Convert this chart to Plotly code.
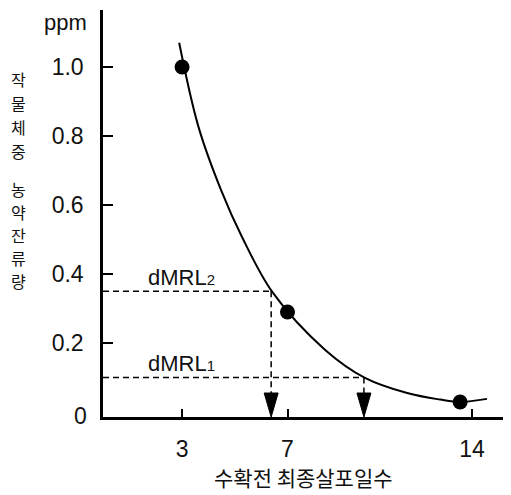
import plotly.graph_objects as go

# ---- data ----
obs_days = [3, 7, 13.55]
obs_ppm = [1.0, 0.29, 0.029]

curve_days = [2.89, 3.62, 4.48, 5.27, 6.45, 8.43, 9.94, 11.54, 12.79, 13.55, 14.57]
curve_ppm = [1.07, 0.827, 0.643, 0.508, 0.345, 0.180, 0.099, 0.055, 0.036, 0.029, 0.038]

dmrl_names = ["dMRL<span style='font-size:15px'>2</span>", "dMRL<span style='font-size:15px'>1</span>"]
dmrl_ppm = [0.35, 0.10]
dmrl_days = [6.38, 9.90]

x_ticks = [3, 7, 14]
y_ticks = [0.2, 0.4, 0.6, 0.8, 1.0]
y_ticktext = ["0.2", "0.4", "0.6", "0.8", "1.0"]

x_title = "수확전 최종살포일수"
y_title = "작물체중 농약잔류량"
unit = "ppm"

# page body has an 8px margin; figure is placed at (8, 8) of the window
OFF = 8
W, H = 503, 487
L, R, T, B = 95, 0, 2, 78
XR = [0, 15.48]
YR = [-0.0145, 1.165]

FONT = "Liberation Sans, Arial, sans-serif"
KFONT = "Noto Sans CJK KR, sans-serif"
TXT = "#111111"

PW = W - L - R
PH = H - T - B


def px(xs):
    """screen x (window pixels) -> paper x"""
    return (xs - OFF - L) / PW


def py(ys):
    """screen y (window pixels) -> paper y"""
    return (H - B - (ys - OFF)) / PH


fig = go.Figure()

fig.add_trace(go.Scatter(x=curve_days, y=curve_ppm, mode="lines",
                         line=dict(color="black", width=2, shape="spline", smoothing=1.0),
                         hoverinfo="skip", showlegend=False))
fig.add_trace(go.Scatter(x=obs_days, y=obs_ppm, mode="markers",
                         marker=dict(color="black", size=15),
                         showlegend=False))

shapes = []
annotations = []
for name, yv, xv in zip(dmrl_names, dmrl_ppm, dmrl_days):
    shapes.append(dict(type="line", xref="x", yref="y", x0=XR[0], x1=xv, y0=yv, y1=yv,
                       line=dict(color="black", width=1.5, dash="6px,4px")))
    shapes.append(dict(type="line", xref="x", yref="y", x0=xv, x1=xv, y0=yv, y1=YR[0] + 0.03,
                       line=dict(color="black", width=1.5, dash="6px,4px")))
    shapes.append(dict(type="path", xref="x", yref="y", xsizemode="pixel", ysizemode="pixel",
                       xanchor=xv, yanchor=YR[0],
                       path="M -7,24 L 7,24 L 0,0 Z",
                       fillcolor="black", line=dict(color="black", width=1)))
    annotations.append(dict(text=name, xref="paper", yref="y",
                            x=px(181), y=yv, yshift=14,
                            showarrow=False, xanchor="center", yanchor="middle",
                            font=dict(family=FONT, size=22, color=TXT)))

# "0" label for the y axis (no tick drawn there)
annotations.append(dict(text="0", xref="paper", yref="y", x=px(89), y=0, yshift=-4,
                        showarrow=False, xanchor="right", yanchor="middle",
                        font=dict(family=FONT, size=23, color=TXT)))
# unit label
annotations.append(dict(text=unit, xref="paper", yref="paper", x=px(65), y=py(22),
                        showarrow=False, xanchor="center", yanchor="middle",
                        font=dict(family=FONT, size=22, color=TXT)))
# vertical stacked y title, one character per line
words = y_title.split(" ")
starts = [79, 188.5]
steps = [24, 23.2]
for word, y0, st in zip(words, starts, steps):
    for i, ch in enumerate(word):
        annotations.append(dict(text=ch, xref="paper", yref="paper",
                                x=px(18), y=py(y0 + i * st), showarrow=False,
                                xanchor="center", yanchor="middle",
                                font=dict(family=KFONT, size=16, color=TXT)))
# x title
annotations.append(dict(text=x_title, xref="paper", yref="paper", x=px(303), y=py(477),
                        showarrow=False, xanchor="center", yanchor="middle",
                        font=dict(family=KFONT, size=21, color=TXT)))

fig.update_layout(
    width=W, height=H,
    margin=dict(l=L, r=R, t=T, b=B, pad=0),
    paper_bgcolor="white", plot_bgcolor="white",
    shapes=shapes, annotations=annotations,
    xaxis=dict(range=XR, tickvals=x_ticks, ticks="inside", ticklen=8, tickwidth=1.5,
               tickcolor="black", showline=True, linecolor="black", linewidth=2.5,
               showgrid=False, zeroline=False, ticklabelstandoff=10,
               tickfont=dict(family=FONT, size=23, color=TXT)),
    yaxis=dict(range=YR, tickvals=y_ticks, ticktext=y_ticktext, ticks="inside", ticklen=10,
               tickwidth=2, tickcolor="black", showline=True, linecolor="black", linewidth=2.5,
               showgrid=False, zeroline=False, ticklabelstandoff=12,
               tickfont=dict(family=FONT, size=23, color=TXT)),
)

fig.write_html("out.html")
